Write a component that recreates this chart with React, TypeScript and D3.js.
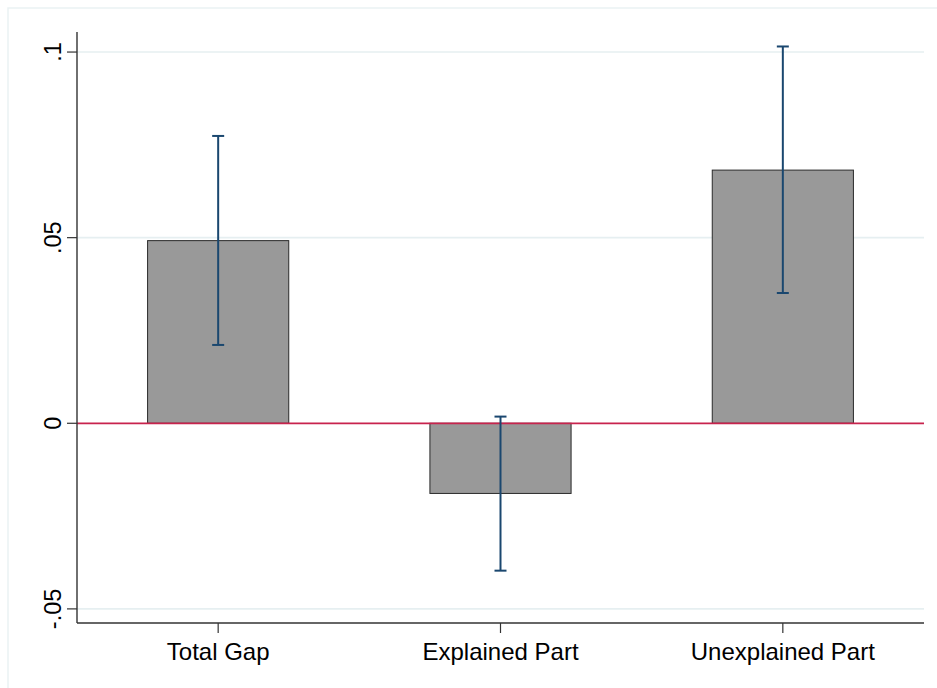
import React from "react";
import * as d3 from "d3";

// Decomposition estimates with 95% confidence intervals
const categories = ["Total Gap", "Explained Part", "Unexplained Part"];
const estimates = [0.0492, -0.0189, 0.0682];
const ciLower = [0.0211, -0.0397, 0.0351];
const ciUpper = [0.0774, 0.0018, 0.1015];
const yTicks = [-0.05, 0, 0.05, 0.1];
const yTickLabels = ["-.05", "0", ".05", ".1"];

const W = 937;
const H = 688;
const plot = { left: 77, right: 924, top: 32, bottom: 623 };

export default function App() {
  const x = d3
    .scaleBand<string>()
    .domain(categories)
    .range([plot.left, plot.right])
    .paddingInner(0.5)
    .paddingOuter(0.25);
  const y = d3.scaleLinear().domain([-0.0538, 0.1054]).range([plot.bottom, plot.top]);
  const bw = x.bandwidth();
  const font = "Arial, 'Liberation Sans', Helvetica, sans-serif";

  return (
    <svg
      width={W}
      height={H}
      style={{ position: "absolute", left: 0, top: 0, background: "#fff" }}
    >
      {/* graph region frame */}
      <rect x={8} y={8} width={W + 20} height={H + 20} fill="#fff" stroke="#eaf2f3" strokeWidth={1.5} />

      {/* grid lines */}
      {yTicks.filter((t) => t !== 0).map((t) => (
        <line key={t} x1={plot.left} x2={plot.right} y1={y(t)} y2={y(t)} stroke="#e6eff1" strokeWidth={1.6} />
      ))}

      {/* bars */}
      {categories.map((c, i) => {
        const v = estimates[i];
        return (
          <rect
            key={c}
            x={x(c)!}
            y={Math.min(y(v), y(0))}
            width={bw}
            height={Math.abs(y(v) - y(0))}
            fill="#999999"
            stroke="#2a2a2a"
            strokeWidth={1}
          />
        );
      })}

      {/* reference line at zero */}
      <line x1={plot.left} x2={plot.right} y1={y(0)} y2={y(0)} stroke="#c8234d" strokeWidth={1.8} />

      {/* confidence intervals */}
      {categories.map((c, i) => {
        const cx = x(c)! + bw / 2;
        return (
          <g key={c} stroke="#1a476f" strokeWidth={2}>
            <line x1={cx} x2={cx} y1={y(ciLower[i])} y2={y(ciUpper[i])} />
            <line x1={cx - 6} x2={cx + 6} y1={y(ciLower[i])} y2={y(ciLower[i])} />
            <line x1={cx - 6} x2={cx + 6} y1={y(ciUpper[i])} y2={y(ciUpper[i])} />
          </g>
        );
      })}

      {/* y axis */}
      <line x1={plot.left} x2={plot.left} y1={plot.top} y2={plot.bottom} stroke="#333" strokeWidth={1.4} />
      {yTicks.map((t, i) => (
        <g key={t}>
          <line x1={plot.left - 10} x2={plot.left} y1={y(t)} y2={y(t)} stroke="#333" strokeWidth={1.2} />
          <text
            transform={`translate(61,${y(t)}) rotate(-90)`}
            textAnchor="middle"
            fontFamily={font}
            fontSize={23.5}
            fill="#000"
          >
            {yTickLabels[i]}
          </text>
        </g>
      ))}

      {/* x axis */}
      <line x1={plot.left} x2={plot.right} y1={plot.bottom} y2={plot.bottom} stroke="#333" strokeWidth={1.4} />
      {categories.map((c) => {
        const cx = x(c)! + bw / 2;
        return (
          <g key={c}>
            <line x1={cx} x2={cx} y1={plot.bottom} y2={plot.bottom + 10} stroke="#333" strokeWidth={1.2} />
            <text x={cx} y={659.5} textAnchor="middle" fontFamily={font} fontSize={24} fill="#000">
              {c}
            </text>
          </g>
        );
      })}
    </svg>
  );
}
